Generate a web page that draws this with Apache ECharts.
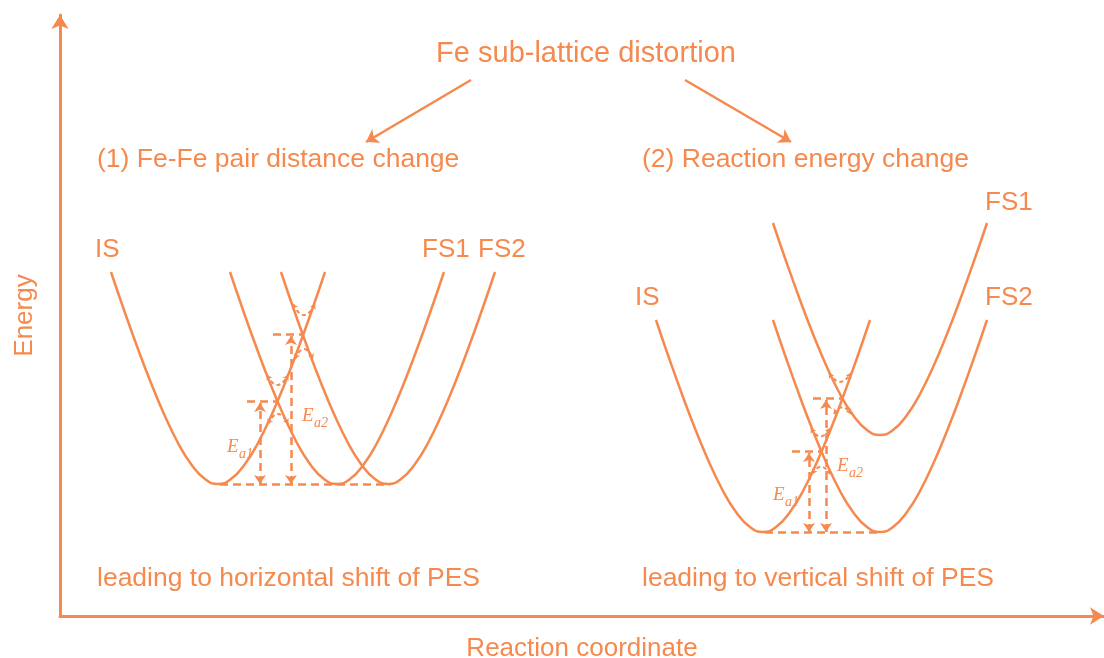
<!DOCTYPE html>
<html>
<head>
<meta charset="utf-8">
<title>Fe sub-lattice distortion</title>
<script src="https://cdn.jsdelivr.net/npm/echarts@6/dist/echarts.min.js"></script>
<style>
  html, body { margin: 0; padding: 0; background: #fff; }
  #chart { width: 1104px; height: 658px; }
</style>
</head>
<body>
<div id="chart"></div>
<script>
// x = reaction coordinate, y = energy (schematic units)
const leftIS = [[51,344],[64,306],[78,267],[91,233],[104,202],[118,173],[131,152],[145,137],[158,132],
  [171,137],[185,152],[198,173],[212,202],[225,233],[238,267],[252,306],[265,344]];
const leftFS1 = [[170,344],[183,306],[197,267],[210,233],[223,202],[237,173],[250,152],[264,137],[277,132],
  [290,137],[304,152],[317,173],[331,202],[344,233],[357,267],[371,306],[384,344]];
const leftFS2 = [[221,344],[234,306],[248,267],[261,233],[274,202],[288,173],[301,152],[315,137],[328,132],
  [341,137],[355,152],[368,173],[382,202],[395,233],[408,267],[422,306],[435,344]];

const rightIS = [[596,296],[609,258],[623,219],[636,185],[649,154],[663,125],[676,104],[690,89],[703,84],
  [716,89],[730,104],[743,125],[757,154],[770,185],[783,219],[797,258],[810,296]];
const rightFS1 = [[713,393],[726,355],[740,316],[753,282],[766,251],[780,222],[793,201],[807,186],[820,181],
  [833,186],[847,201],[860,222],[874,251],[887,282],[900,316],[914,355],[927,393]];
const rightFS2 = [[713,296],[726,258],[740,219],[753,185],[766,154],[780,125],[793,104],[807,89],[820,84],
  [833,89],[847,104],[860,125],[874,154],[887,185],[900,219],[914,258],[927,296]];

// dashed guides
const baseLines = [[[160,132],[330,132]], [[705,84],[818,84]]];
const eaTops    = [[[187,215],[218,215]], [[213,282],[243,282]], [[732,165],[761,165]], [[753,218],[782,218]]];
const eaArrows  = [[[200,132],[200,213]], [[231,132],[231,280]], [[749,84],[749,163]], [[766,84],[766,216]]];

// small arcs around the crossings: [start, end, curveness]
const arcs = [
  [[233,312],[255,312], -1.0],
  [[235,257],[253,257], 1.1],
  [[207,241],[228,241], -0.95],
  [[208,192],[228,192], 1.0],
  [[769,243],[791,243], -0.8],
  [[774,202],[791,202], 0.8],
  [[751,188],[770,188], -0.9],
  [[752,142],[770,142], 0.8]
];

const branchArrows = [[[411,536],[306,474]], [[625,536],[731,474]]];

const col = '#F5894E';
const sans = '"Liberation Sans", Arial, sans-serif';
const serif = '"Liberation Serif", "Times New Roman", serif';

const chart = echarts.init(document.getElementById('chart'), null, {renderer: 'canvas'});

function curve(data) {
  return {
    type: 'line', data: data, smooth: true, showSymbol: false, silent: true,
    lineStyle: {color: col, width: 2.5}
  };
}

function segs(list, opts) {
  return Object.assign({
    type: 'lines', coordinateSystem: 'cartesian2d', silent: true,
    data: list.map(c => ({coords: c})),
    symbol: ['none', 'none'],
    lineStyle: {color: col, width: 2.5, type: [8, 5], opacity: 1}
  }, opts || {});
}

function txt(text, x, y, size, align) {
  return {
    type: 'text', x: x, y: y, silent: true,
    style: {text: text, fill: col, font: size + 'px ' + sans, align: align || 'left', verticalAlign: 'middle'}
  };
}

function ea(sub, x, y) {
  return [
    {type: 'text', x: x, y: y, silent: true,
     style: {text: 'E', fill: col, font: 'italic 19px ' + serif, align: 'left', verticalAlign: 'middle'}},
    {type: 'text', x: x + 12, y: y + 7, silent: true,
     style: {text: sub, fill: col, font: 'italic 14px ' + serif, align: 'left', verticalAlign: 'middle'}}
  ];
}

const option = {
  animation: false,
  backgroundColor: '#fff',
  grid: {left: 60, right: 0, top: 15, bottom: 42, outerBoundsMode: 'none', containLabel: false},
  xAxis: {
    type: 'value', min: 0, max: 1044,
    name: 'Reaction coordinate', nameLocation: 'middle', nameGap: 20,
    nameTextStyle: {color: col, fontSize: 26, fontFamily: sans},
    axisLine: {lineStyle: {color: col, width: 3}, symbol: ['none', 'arrow'], symbolSize: [13, 14]},
    axisTick: {show: false}, axisLabel: {show: false}, splitLine: {show: false}
  },
  yAxis: {
    type: 'value', min: 0, max: 601,
    name: 'Energy', nameLocation: 'middle', nameGap: 22,
    nameTextStyle: {color: col, fontSize: 26, fontFamily: sans},
    axisLine: {show: true, lineStyle: {color: col, width: 3}, symbol: ['none', 'arrow'], symbolSize: [13, 14]},
    axisTick: {show: false}, axisLabel: {show: false}, splitLine: {show: false}
  },
  series: [
    curve(leftIS), curve(leftFS1), curve(leftFS2),
    curve(rightIS), curve(rightFS1), curve(rightFS2),
    segs(baseLines),
    segs(eaTops),
    segs(eaArrows, {symbol: ['arrow', 'arrow'], symbolSize: 9}),
    {
      type: 'lines', coordinateSystem: 'cartesian2d', silent: true,
      data: arcs.map(a => ({coords: [a[0], a[1]], lineStyle: {curveness: a[2]}})),
      symbol: ['arrow', 'arrow'], symbolSize: 5,
      lineStyle: {color: col, width: 2, type: [4, 3], opacity: 1}
    },
    {
      type: 'lines', coordinateSystem: 'cartesian2d', silent: true,
      data: branchArrows.map(c => ({coords: c})),
      symbol: ['none', 'arrow'], symbolSize: 12,
      lineStyle: {color: col, width: 2.5, type: 'solid', opacity: 1}
    }
  ],
  graphic: [
    txt('Fe sub-lattice distortion', 586, 54, 29, 'center'),
    txt('(1) Fe-Fe pair distance change', 97, 160, 26.5),
    txt('(2) Reaction energy change', 642, 160, 26.5),
    txt('IS', 95, 250, 26),
    txt('FS1', 422, 250, 26),
    txt('FS2', 478, 250, 26),
    txt('IS', 635, 298, 26),
    txt('FS1', 985, 203, 26),
    txt('FS2', 985, 298, 26),
    txt('leading to horizontal shift of PES', 97, 579, 26.5),
    txt('leading to vertical shift of PES', 642, 579, 26.5)
  ].concat(ea('a1', 227, 447), ea('a2', 302, 416), ea('a1', 773, 495), ea('a2', 837, 466))
};

chart.setOption(option);
window.addEventListener('resize', chart.resize);
</script>
</body>
</html>
